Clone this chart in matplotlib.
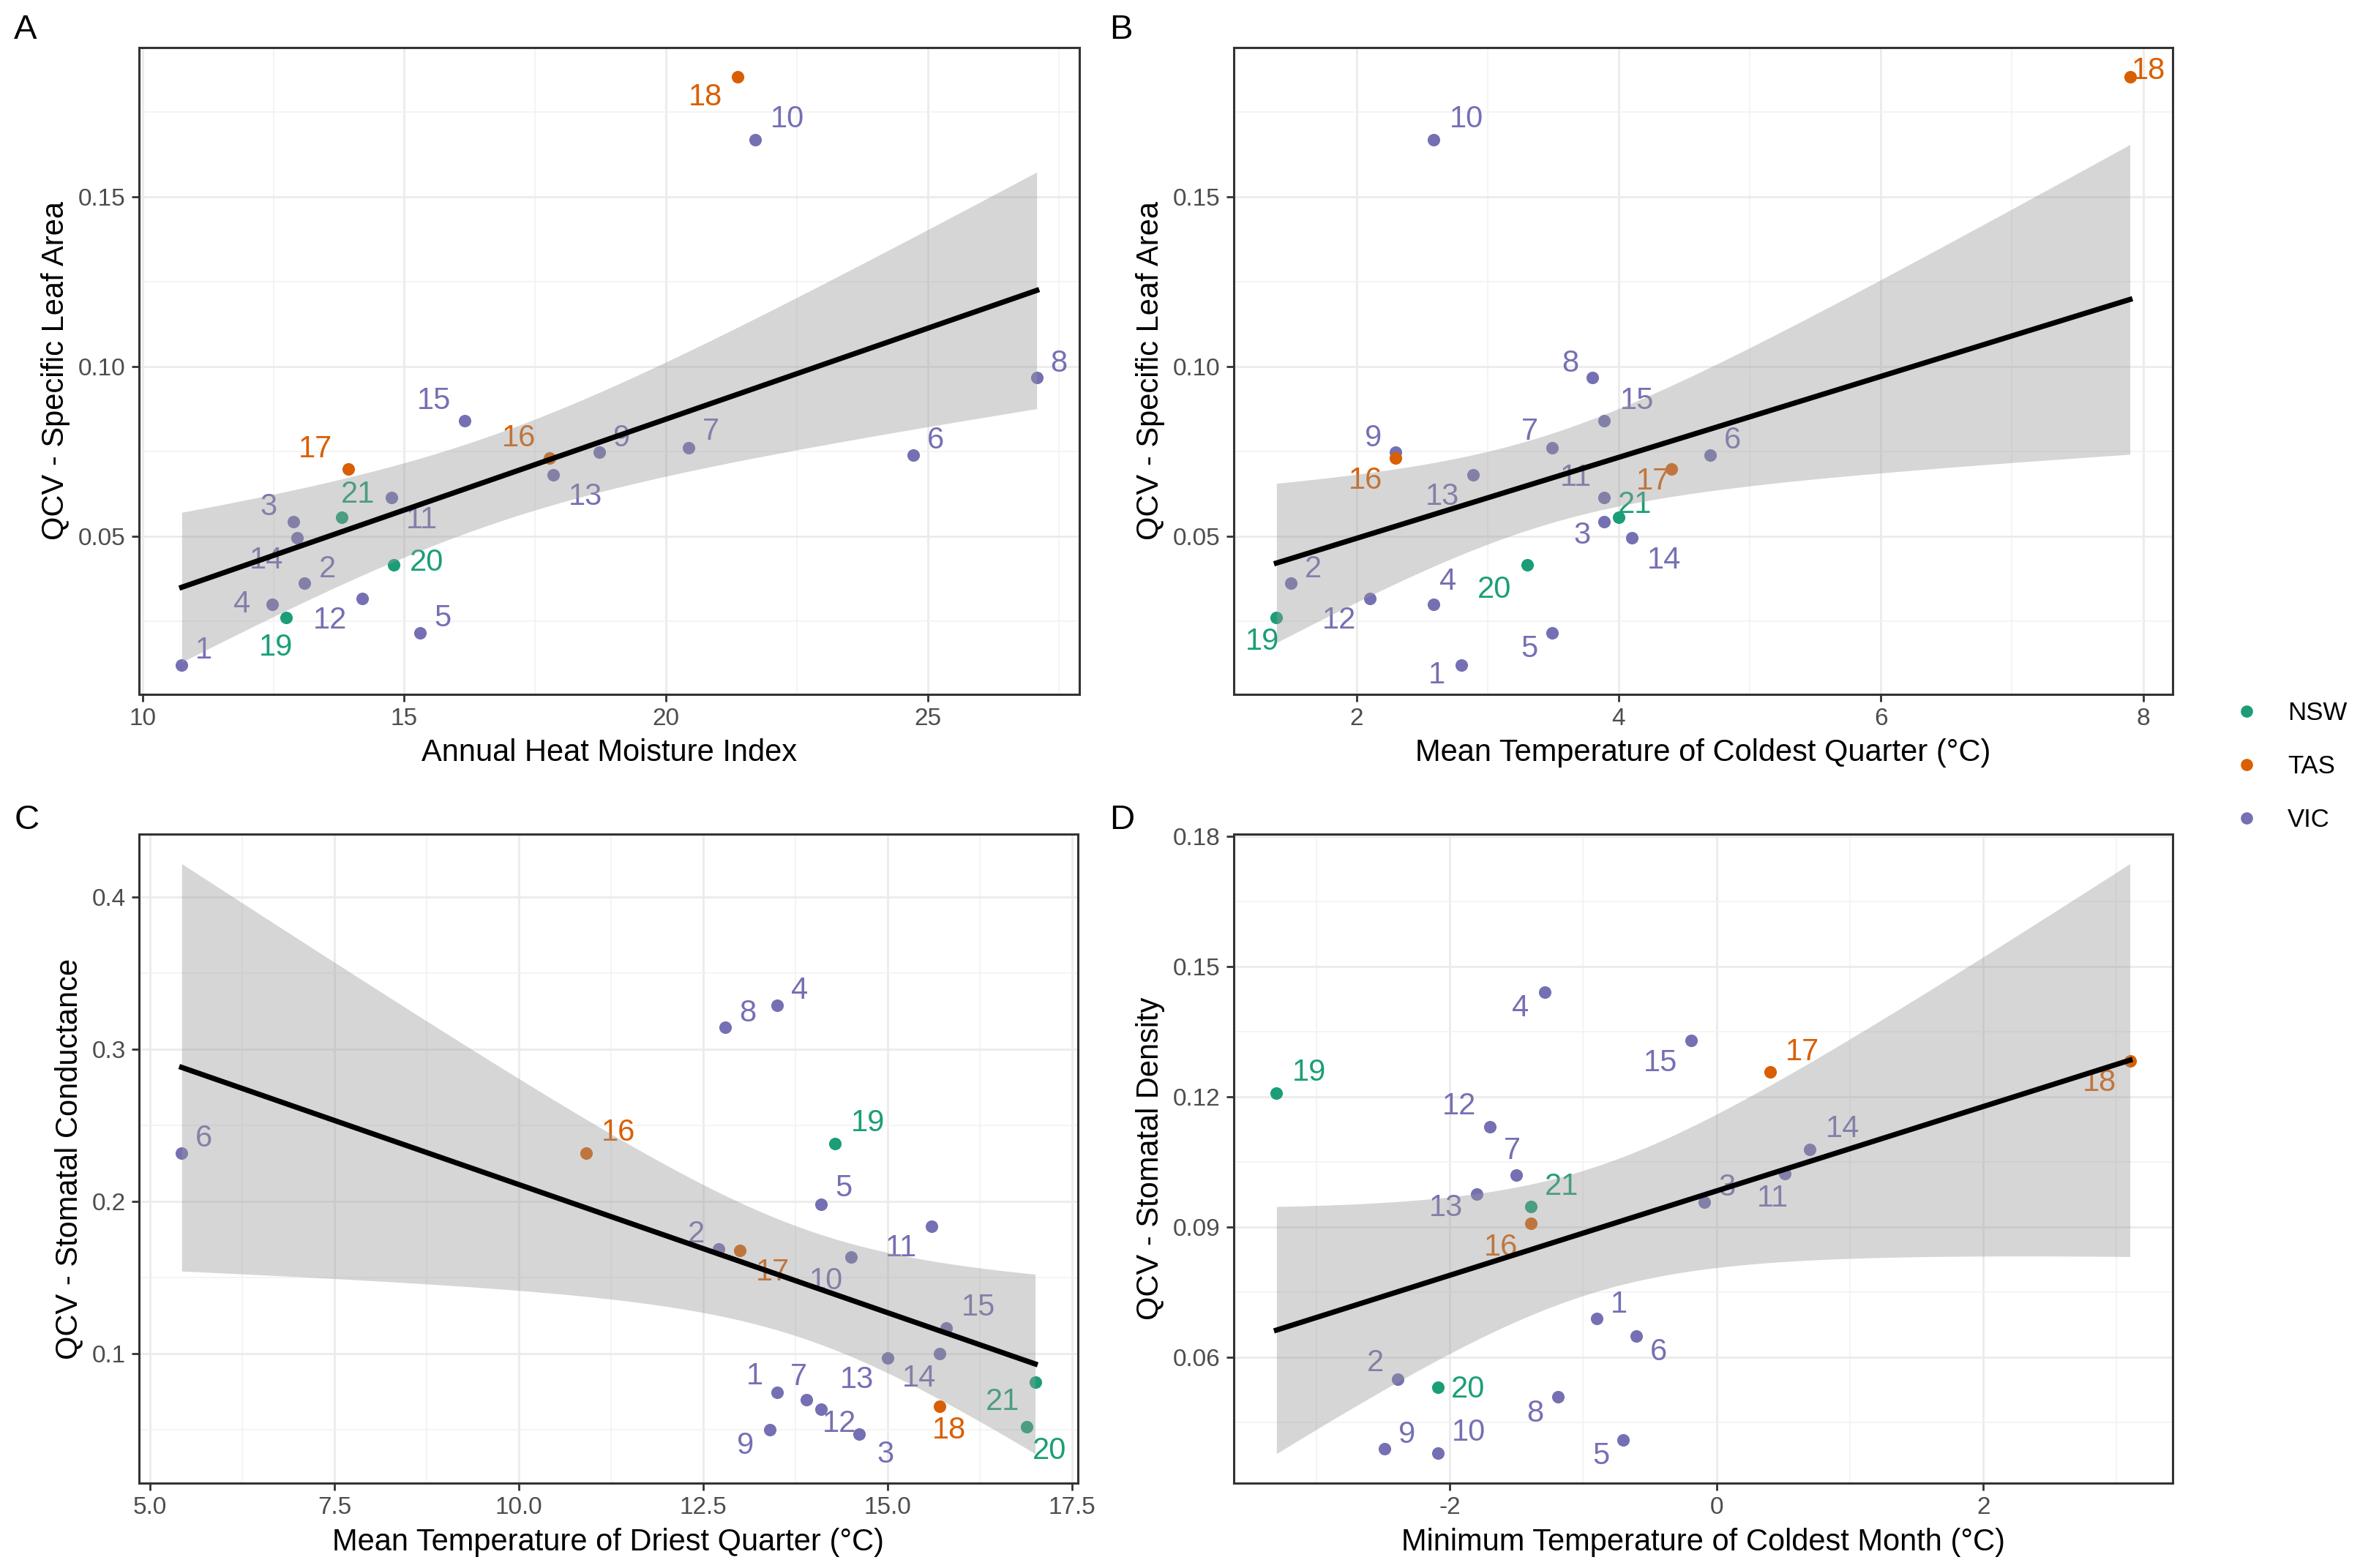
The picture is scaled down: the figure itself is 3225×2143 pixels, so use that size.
import numpy as np
import matplotlib
matplotlib.use("Agg")
import matplotlib.pyplot as plt
from matplotlib.ticker import AutoMinorLocator, FixedLocator, FormatStrFormatter

plt.rcParams['font.family'] = ['Liberation Sans', 'DejaVu Sans']

# --- data -----------------------------------------------------------------
site = list(range(1, 22))
state = ['VIC'] * 15 + ['TAS'] * 3 + ['NSW'] * 3

# QCV of specific leaf area (panels A and B)
qcv_sla = [0.0122, 0.0362, 0.0544, 0.0301, 0.0217, 0.0740, 0.0761, 0.0968,
           0.0748, 0.1669, 0.0614, 0.0318, 0.0682, 0.0496, 0.0840, 0.0730,
           0.0698, 0.1853, 0.0262, 0.0416, 0.0557]
heat_moisture = [10.75, 13.10, 12.88, 12.48, 15.30, 24.72, 20.43, 27.08,
                 18.73, 21.70, 14.76, 14.20, 17.84, 12.95, 16.15, 17.77,
                 13.93, 21.37, 12.74, 14.80, 13.80]
temp_coldest_qtr = [2.80, 1.50, 3.89, 2.59, 3.49, 4.70, 3.49, 3.80, 2.30,
                    2.59, 3.89, 2.10, 2.89, 4.10, 3.89, 2.30, 4.40, 7.90,
                    1.39, 3.30, 4.00]

# QCV of stomatal conductance (panel C)
qcv_gs = [0.0747, 0.169, 0.0474, 0.329, 0.198, 0.232, 0.0701, 0.3145, 0.0503,
          0.1638, 0.184, 0.0635, 0.0974, 0.100, 0.1171, 0.232, 0.168, 0.0658,
          0.238, 0.0523, 0.0816]
temp_driest_qtr = [13.50, 12.71, 14.61, 13.50, 14.10, 5.43, 13.90, 12.80,
                   13.40, 14.50, 15.60, 14.10, 15.00, 15.70, 15.79, 10.91,
                   13.00, 15.70, 14.29, 16.89, 17.00]

# QCV of stomatal density (panel D)
qcv_sd = [0.069, 0.055, 0.0958, 0.1441, 0.041, 0.065, 0.102, 0.0509, 0.039,
          0.038, 0.1023, 0.1132, 0.0977, 0.1079, 0.133, 0.0909, 0.1257,
          0.1283, 0.1209, 0.0532, 0.0947]
min_temp_coldest = [-0.90, -2.39, -0.09, -1.29, -0.70, -0.60, -1.50, -1.19,
                    -2.49, -2.09, 0.51, -1.70, -1.80, 0.70, -0.19, -1.39,
                    0.40, 3.10, -3.30, -2.09, -1.39]

# the SLA fits in A and B are flatter than a plain lm on the plotted means,
# so their intercept / slope / residual sd are read off the figure instead
fit_a = (-0.02248, 0.005352, 0.0286)
fit_b = (0.02562, 0.01192, 0.0287)

state_colors = {'NSW': '#1B9E77', 'TAS': '#D95F02', 'VIC': '#7570B3'}

# label offsets (points) for each site, one list per panel
offs_a = [(11, 7), (11, 7), (-12, 7), (-15, 0), (11, 7), (11, 7), (11, 8),
          (11, 7), (11, 7), (16, 10), (15, -11), (-16, -11), (16, -11),
          (-15, -11), (-15, 10), (-15, 10), (-16, 10), (-16, -10), (-5, -15),
          (16, 1), (8, 11)]
offs_b = [(-12, -5), (11, 7), (-11, -7), (7, 11), (-11, -8), (11, 7), (-11, 8),
          (-11, 7), (-11, 7), (16, 10), (-14, 10), (-15, -11), (-15, -11),
          (16, -11), (16, 10), (-15, -11), (-9, -6), (9, 3), (-7, -12),
          (-16, -12), (8, 6)]
offs_c = [(-11, 8), (-11, 7), (13, -10), (11, 7), (11, 8), (11, 7), (-4, 11),
          (11, 7), (-12, -8), (-12, -12), (-15, -11), (9, -7), (-15, -11),
          (-10, -12), (16, 10), (16, 10), (16, -11), (5, -12), (16, 10),
          (11, -12), (-16, -10)]
offs_d = [(11, 7), (-11, 8), (11, 7), (-12, -8), (-11, -8), (11, -8), (-2, 12),
          (-11, -8), (11, 7), (15, 10), (-6, -12), (-15, 10), (-15, -7),
          (16, 10), (-15, -11), (-15, -12), (16, 10), (-15, -11), (16, 10),
          (15, -1), (15, 10)]


def lm_band(x, y, fit=None, n=80, t=2.093):
    # straight line with 95% confidence band, like geom_smooth(method = "lm")
    x = np.asarray(x)
    y = np.asarray(y)
    if fit is None:
        b, a = np.polyfit(x, y, 1)
        resid = y - (a + b * x)
        s = np.sqrt(np.sum(resid ** 2) / (len(x) - 2))
    else:
        a, b, s = fit
    sxx = np.sum((x - x.mean()) ** 2)
    xs = np.linspace(x.min(), x.max(), n)
    yhat = a + b * xs
    se = s * np.sqrt(1 / len(x) + (xs - x.mean()) ** 2 / sxx)
    return xs, yhat, yhat - t * se, yhat + t * se


def panel(ax, x, y, offs, xlabel, ylabel, xticks, yticks, xfmt, yfmt, letter,
          fit=None):
    for xi, yi, st, lab, (dx, dy) in zip(x, y, state, site, offs):
        c = state_colors[st]
        ax.scatter(xi, yi, s=38, color=c, zorder=3, linewidths=0)
        ax.annotate(str(lab), (xi, yi), xytext=(dx, dy), textcoords='offset points',
                    ha='center', va='center', fontsize=15, color=c, zorder=3)
    xs, yhat, lo, hi = lm_band(x, y, fit)
    ax.fill_between(xs, lo, hi, color='#999999', alpha=0.4, linewidth=0, zorder=4)
    ax.plot(xs, yhat, color='black', linewidth=2.6, zorder=5)

    ax.margins(0.05)
    ax.xaxis.set_major_locator(FixedLocator(xticks))
    ax.yaxis.set_major_locator(FixedLocator(yticks))
    ax.xaxis.set_major_formatter(FormatStrFormatter(xfmt))
    ax.yaxis.set_major_formatter(FormatStrFormatter(yfmt))
    ax.xaxis.set_minor_locator(AutoMinorLocator(2))
    ax.yaxis.set_minor_locator(AutoMinorLocator(2))
    ax.grid(which='major', color='#EBEBEB', linewidth=1.0, zorder=0)
    ax.grid(which='minor', color='#F2F2F2', linewidth=0.6, zorder=0)
    ax.set_axisbelow(True)
    for sp in ax.spines.values():
        sp.set_color('#333333')
        sp.set_linewidth(1.1)
    ax.tick_params(which='major', length=3.6, width=1.0, color='#333333',
                   labelsize=12, labelcolor='#4D4D4D', pad=3)
    ax.tick_params(which='minor', length=0)
    ax.set_xlabel(xlabel, fontsize=15, labelpad=4)
    ax.set_ylabel(ylabel, fontsize=15, labelpad=4)
    fig.text(letter[1], letter[2], letter[0], fontsize=17, ha='left', va='center')


fig = plt.figure(figsize=(16.125, 10.715), dpi=200)
ax_a = fig.add_axes([0.0589, 0.5572, 0.3985, 0.4125])
ax_b = fig.add_axes([0.5228, 0.5572, 0.3978, 0.4125])
ax_c = fig.add_axes([0.0589, 0.0541, 0.3978, 0.4139])
ax_d = fig.add_axes([0.5228, 0.0541, 0.3978, 0.4139])

panel(ax_a, heat_moisture, qcv_sla, offs_a, 'Annual Heat Moisture Index',
      'QCV - Specific Leaf Area', [10, 15, 20, 25], [0.05, 0.10, 0.15],
      '%g', '%.2f', ('A', 0.006, 0.981), fit=fit_a)
panel(ax_b, temp_coldest_qtr, qcv_sla, offs_b,
      'Mean Temperature of Coldest Quarter (°C)', 'QCV - Specific Leaf Area',
      [2, 4, 6, 8], [0.05, 0.10, 0.15], '%g', '%.2f', ('B', 0.470, 0.981),
      fit=fit_b)
panel(ax_c, temp_driest_qtr, qcv_gs, offs_c,
      'Mean Temperature of Driest Quarter (°C)', 'QCV - Stomatal Conductance',
      [5.0, 7.5, 10.0, 12.5, 15.0, 17.5], [0.1, 0.2, 0.3, 0.4],
      '%.1f', '%.1f', ('C', 0.006, 0.477))
panel(ax_d, min_temp_coldest, qcv_sd, offs_d,
      'Minimum Temperature of Coldest Month (°C)', 'QCV - Stomatal Density',
      [-2, 0, 2], [0.06, 0.09, 0.12, 0.15, 0.18], '%g', '%.2f',
      ('D', 0.470, 0.477))

# legend on the right, centred vertically
handles = [plt.Line2D([], [], marker='o', linestyle='', markersize=6,
                      markeredgewidth=0, color=state_colors[k]) for k in state_colors]
fig.legend(handles, list(state_colors), loc='center left',
           bbox_to_anchor=(0.937, 0.511), frameon=False, fontsize=12.5,
           handletextpad=1.1, labelspacing=1.15, handlelength=1.0)

fig.savefig('out.png', dpi=200)
